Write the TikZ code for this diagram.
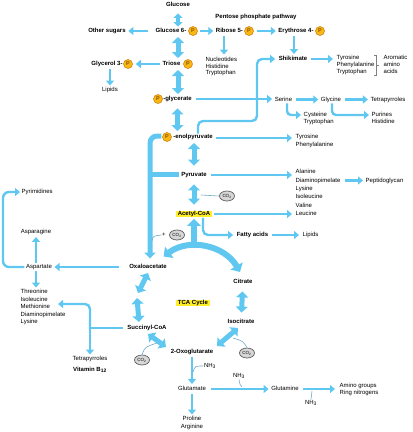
\documentclass[tikz,border=0pt]{standalone}
\usepackage{fontspec}
\setmainfont{Liberation Sans}
\usetikzlibrary{arrows.meta,shapes.geometric,calc}
\definecolor{flow}{RGB}{96,200,240}
\definecolor{hair}{RGB}{110,170,200}
\definecolor{porange}{RGB}{250,184,20}
\definecolor{pdark}{RGB}{200,120,0}
\definecolor{cgray}{RGB}{215,215,215}
\definecolor{cdark}{RGB}{90,90,90}
\definecolor{hly}{RGB}{255,238,40}
\tikzset{
 lbl/.style={inner sep=0.5pt, text height=4.3pt, text depth=1.2pt, font=\fontsize{6}{7}\selectfont},
 blbl/.style={lbl, font=\fontsize{6}{7}\selectfont\bfseries},
 li/.style={lbl, anchor=west},
 pc/.style={circle, fill=porange, draw=pdark, line width=0.5pt, minimum size=9pt, inner sep=0pt, font=\fontsize{5.5}{6}\selectfont\bfseries, text=pdark!70!black},
 co/.style={ellipse, fill=cgray, draw=cdark, line width=0.7pt, minimum width=15pt, minimum height=10pt, inner sep=0pt, font=\fontsize{4.5}{5}\selectfont},
 ar/.style={draw=flow, line width=2.4pt, -{Triangle[length=5pt,width=8pt]}},
 ln/.style={draw=flow, line width=2.4pt},
 dar/.style={draw=flow, line width=5pt, {Triangle[length=6pt,width=12pt]}-{Triangle[length=6pt,width=12pt]}},
 hl/.style={draw=hair, line width=0.6pt},
 brk/.style={draw=gray, line width=0.5pt},
}
\begin{document}
\begin{tikzpicture}[x=1pt,y=-1pt]
\path[use as bounding box] (0,0) rectangle (413,432);

% ---------- nodes ----------
\node[blbl] (glucose) at (178,5) {Glucose};
\node[blbl] (g6p) at (171,31) {Glucose 6-};
\node[pc] (pg6p) at (193,31) {P};
\node[blbl] (othersugars) at (107,31) {Other sugars};
\node[blbl] (pentose) at (256,17) {Pentose phosphate pathway};
\node[blbl] (ribose) at (229.5,31) {Ribose 5-};
\node[pc] (pribose) at (249,31) {P};
\node[blbl] (erythrose) at (296,31) {Erythrose 4-};
\node[pc] (perythrose) at (320,31) {P};
\node[li] (nuc1) at (205,60) {Nucleotides};
\node[li] (nuc2) at (205,66.5) {Histidine};
\node[li] (nuc3) at (205,73) {Tryptophan};
\node[blbl] (triose) at (171.5,64) {Triose};
\node[pc] (ptriose) at (188,64) {P};
\node[blbl] (glycerol) at (107,64) {Glycerol 3-};
\node[pc] (pglycerol) at (128,64) {P};
\node[lbl] (lipidsa) at (110,90) {Lipids};
\node[pc] (ppgly) at (158,99) {P};
\node[blbl] (pglycerate) at (177.5,99) {-glycerate};
\node[blbl] (shikimate) at (293,59) {Shikimate};
\node[li] (tyr1) at (336,58) {Tyrosine};
\node[li] (phe1) at (336,65) {Phenylalanine};
\node[li] (trp1) at (336,72) {Tryptophan};
\node[li] (arom1) at (383,58) {Aromatic};
\node[li] (arom2) at (383,65) {amino};
\node[li] (arom3) at (383,72) {acids};
\node[lbl] (serine) at (283.5,99.5) {Serine};
\node[lbl] (glycine) at (331,99.5) {Glycine};
\node[lbl] (tetraa) at (388,99.5) {Tetrapyrroles};
\node[li] (cys) at (303,115) {Cysteine};
\node[li] (trp2) at (303,122) {Tryptophan};
\node[li] (pur) at (371,115) {Purines};
\node[li] (his) at (371,122) {Histidine};
\node[pc] (ppep) at (167,137) {P};
\node[blbl] (pep) at (193,137) {-enolpyruvate};
\node[li] (tyr2) at (295,137) {Tyrosine};
\node[li] (phe2) at (295,145) {Phenylalanine};
\node[blbl] (pyruvate) at (194,175) {Pyruvate};
\node[li] (ala) at (295,172) {Alanine};
\node[li] (dap) at (295,180.5) {Diaminopimelate};
\node[li] (lys) at (295,189) {Lysine};
\node[li] (ile) at (295,197) {Isoleucine};
\node[li] (val) at (295,205.5) {Valine};
\node[li] (leu) at (295,214) {Leucine};
\node[li] (peptido) at (365,180.5) {Peptidoglycan};
\node[blbl, fill=hly, inner xsep=1.5pt] (acetyl) at (194,214) {Acetyl-CoA};
\node[co] (co2a) at (227,196) {CO\textsubscript{2}};
\node[blbl] (fatty) at (252.5,235) {Fatty acids};
\node[li] (lipidsb) at (302,235) {Lipids};
\node[lbl] (plus) at (164,235) {+};
\node[co] (co2b) at (177,235) {CO\textsubscript{2}};
\node[blbl] (oxalo) at (148,267) {Oxaloacetate};
\node[blbl] (citrate) at (243,282) {Citrate};
\node[blbl, fill=hly, inner xsep=1.5pt] (tca) at (193,303) {TCA Cycle};
\node[blbl] (isocit) at (241,322) {Isocitrate};
\node[blbl] (succ) at (147,328) {Succinyl-CoA};
\node[blbl] (oxoglu) at (192,352) {2-Oxoglutarate};
\node[co] (co2c) at (142,360) {CO\textsubscript{2}};
\node[co] (co2d) at (247,353) {CO\textsubscript{2}};
\node[lbl] (nh3a) at (210,366) {NH\textsubscript{3}};
\node[lbl] (glutamate) at (192,389) {Glutamate};
\node[lbl] (pro) at (192,419) {Proline};
\node[lbl] (arg) at (192,427) {Arginine};
\node[lbl] (glutamine) at (285,389) {Glutamine};
\node[lbl] (nh3b) at (239,376) {NH\textsubscript{3}};
\node[lbl] (nh3c) at (311,403) {NH\textsubscript{3}};
\node[li] (amino1) at (339,386) {Amino groups};
\node[li] (amino2) at (339,393) {Ring nitrogens};
\node[lbl] (aspartate) at (39,267) {Aspartate};
\node[lbl] (asparagine) at (36,232) {Asparagine};
\node[li] (pyrimidines) at (21,192) {Pyrimidines};
\node[li] (thr) at (20,292) {Threonine};
\node[li] (ile2) at (20,299.5) {Isoleucine};
\node[li] (met) at (20,307) {Methionine};
\node[li] (dap2) at (20,314.5) {Diaminopimelate};
\node[li] (lys2) at (20,322) {Lysine};
\node[lbl] (tetrab) at (90,359) {Tetrapyrroles};
\node[blbl] (vitb) at (90,370) {Vitamin B\textsubscript{12}};

% ---------- main trunk ----------
\draw[dar, line width=3.5pt, {Triangle[length=4.5pt,width=9pt]}-{Triangle[length=4.5pt,width=9pt]}, shorten <=5pt, shorten >=4.5pt] (glucose) -- (glucose |- g6p);
\draw[dar, shorten <=6pt, shorten >=6pt] (glucose |- g6p) -- (glucose |- triose);
\draw[dar, shorten <=6pt, shorten >=5pt] (glucose |- triose) -- (glucose |- pglycerate);
\draw[dar, shorten <=6pt, shorten >=6pt] (pglycerate) -- (pglycerate |- pep);
\draw[dar, shorten <=6pt, shorten >=6pt] (pyruvate |- pep) -- (pyruvate);
\draw[dar, shorten <=6pt, shorten >=6pt] (pyruvate) -- (acetyl);

\draw[ln, line width=5pt, rounded corners=7pt, -{Triangle[length=6pt,width=11pt]}] ($(ppep.west)+(-1,-1)$) -| ($(oxalo.north)+(2,-5)$);
\draw[ln, line width=5pt] ($(pyruvate.west)+(-2,-1)$) -- ($(pyruvate -| oxalo)+(2,-1)$);

% ---------- TCA ----------
\draw[ln, line width=6pt, {Triangle[length=7pt,width=14pt]}-{Triangle[length=7pt,width=14pt]}] ($(oxalo)+(15.7,-10.5)$) .. controls ($(oxalo)+(40.6,-29.3)$) and ($(citrate)+(-18.6,-37)$) .. ($(citrate)+(-3,-10)$);
\draw[ln, line width=6pt, -{Triangle[length=7pt,width=14pt]}] ($(acetyl)+(0,33)$) -- ($(acetyl.south)+(0,1.5)$);
\draw[dar, shorten <=6pt, shorten >=6pt] (citrate) -- (isocit);
\draw[dar] ($(isocit)+(-3,6)$) -- ($(oxoglu)+(25,-6)$);
\draw[dar] ($(succ)+(1,6)$) -- ($(oxoglu)+(-26,-5)$);
\draw[dar] ($(oxalo)+(0,6)$) -- ($(oxalo)+(-10,26)$);
\draw[dar] ($(succ)+(-10,-30)$) -- ($(succ)+(-8,-6)$);

% ---------- thin arrows ----------
\draw[ar] ($(g6p.west)+(-7,0)$) -- ($(othersugars.east)+(2,0)$);
\draw[ar] ($(pg6p.east)+(2,0)$) -- ($(ribose.west)+(-2,0)$);
\draw[ar] ($(pribose.east)+(3,0)$) -- ($(erythrose.west)+(-2,0)$);
\draw[ar] ($(ribose.south)+(-5.5,1.5)$) -- ($(ribose.south |- nuc1.north)+(-5.5,-2)$);
\draw[ar] ($(erythrose.south)+(-2,1.5)$) -- ($(erythrose.south |- shikimate.north)+(-2,-1.5)$);
\draw[ar] ($(triose.west)+(-2,0)$) -- ($(pglycerol.east)+(3,0)$);
\draw[ar] ($(glycerol.south)+(3,1.5)$) -- ($(lipidsa.north)+(0,-1)$);
\draw[ar] ($(shikimate.east)+(3,0)$) -- ($(shikimate.east -| tyr1.west)+(-3,0)$);
\draw[ar] ($(pglycerate.east)+(4,0)$) -- ($(pglycerate.east -| serine.west)+(-2,0)$);
\draw[ar] ($(serine.east)+(3,0)$) -- ($(glycine.west)+(-2,0)$);
\draw[ar] ($(glycine.east)+(3,0)$) -- ($(tetraa.west)+(-2,0)$);
\draw[ar, rounded corners=4pt] ($(serine.south)+(3.5,0.5)$) |- ($(cys.west)+(-2,0)$);
\draw[ar, rounded corners=4pt] ($(glycine.south)+(1,0.5)$) |- ($(pur.west)+(-2,0)$);
\coordinate (pk) at (257,121);
\draw[ar, rounded corners=5pt] ($(pep.north)+(5,0)$) |- (pk) |- ($(shikimate.west)+(-3,0)$);
\draw[ar] ($(pep.east)+(3,1)$) -- ($(pep.east -| tyr2.west)+(-3,1)$);
\draw[ar] ($(pyruvate.east)+(4,0)$) -- ($(pyruvate.east -| ala.west)+(-3,0)$);
\draw[ar] ($(dap.east)+(4,0)$) -- ($(peptido.west)+(-2,0)$);
\draw[ar] ($(acetyl.east)+(2,0)$) -- ($(leu.west)+(-3,0)$);
\draw[ar, rounded corners=5pt] ($(acetyl.south)+(9,0.5)$) |- ($(fatty.west)+(-3,0)$);
\draw[ar] ($(fatty.east)+(3,0)$) -- ($(lipidsb.west)+(-3,0)$);
\draw[ar] ($(oxalo.west)+(-10,0)$) -- ($(aspartate.east)+(2,0)$);
\draw[ar] ($(aspartate.north)+(-3,-1)$) -- ($(asparagine.south)+(0,1.5)$);
\draw[ar] ($(aspartate.south)+(-3,1)$) -- ($(thr.north west)+(16,-1)$);
\draw[ar, rounded corners=6pt] ($(aspartate.west)+(-1,0)$) -| ($(pyrimidines.west)+(-18,0)$) -- ($(pyrimidines.west)+(-1,0)$);
\draw[ln, shorten <=4pt] (succ.west) -- (succ.west -| vitb);
\draw[ar] ($(succ.west -| vitb)+(0,-4)$) -- ($(tetrab.north -| vitb)+(0,-1)$);
\draw[ar, rounded corners=5pt] ($(succ.west -| vitb)+(0,2)$) |- ($(ile2.west)+(38,4.5)$);
\draw[ar] ($(oxoglu.south)+(0,1.5)$) -- ($(glutamate.north)+(0,-1.5)$);
\draw[ar] ($(glutamate.south)+(0,1.5)$) -- ($(pro.north)+(0,-1)$);
\draw[ar] ($(glutamate.east)+(4,0)$) -- ($(glutamine.west)+(-2,0)$);
\draw[ar] ($(glutamine.east)+(4,0)$) -- ($(glutamine.east -| amino1.west)+(-4,0)$);

% ---------- CO2 / NH3 hairlines ----------
\draw[hl] ($(pyruvate)+(7,20)$) -- (co2a.west);
\draw[hl] ($(oxalo)+(4,-26)$) .. controls ($(oxalo)+(5,-31)$) .. (plus.west);
\draw[hl] (co2c.north) .. controls ($(co2c)+(3,-13)$) .. ($(succ)+(10,15)$);
\draw[hl] (co2d.north) .. controls ($(co2d)+(-4,-12)$) .. ($(isocit)+(-8,16)$);
\draw[hl] (nh3a.west) .. controls ($(nh3a)+(-15,0)$) .. ($(oxoglu)+(1,20)$);
\draw[hl] (nh3b.south) .. controls ($(nh3b)+(1,9)$) .. ($(glutamine)+(-43,-2)$);
\draw[hl] (nh3c.north) .. controls ($(nh3c)+(0,-8)$) .. ($(glutamine)+(27,2)$);

% ---------- bracket ----------
\draw[brk] ($(arom1.west)+(-9,-3)$) -- ++(2,0) -- ++(0,20) -- ++(-2,0);
\draw[brk] ($(arom2.west)+(-7,0)$) -- ++(3,0);
\end{tikzpicture}
\end{document}
